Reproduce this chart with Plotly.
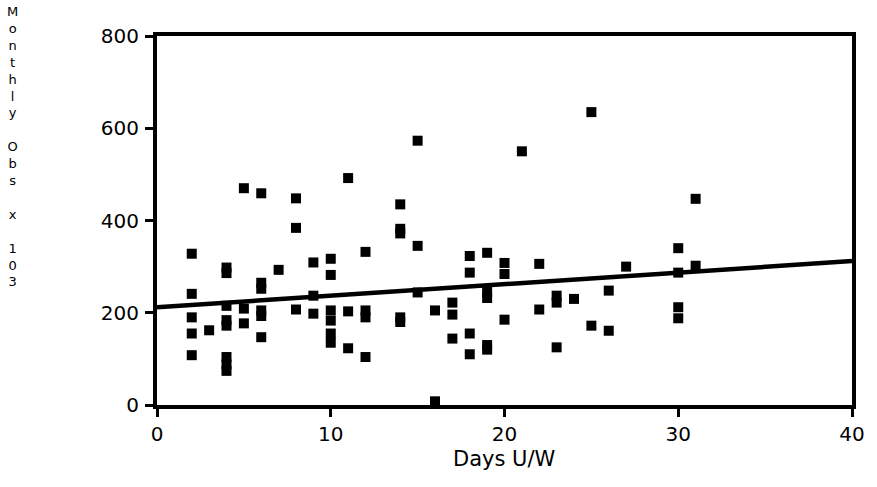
import plotly.graph_objects as go

# ---- data ----
days_uw = ([2]*5 + [3] + [4]*8 + [5]*3 + [6]*6 + [7] + [8]*3 + [9]*3 + [10]*6 +
           [11]*3 + [12]*4 + [14]*5 + [15]*3 + [16]*2 + [17]*3 + [18]*4 + [19]*5 +
           [20]*3 + [21] + [22]*2 + [23]*3 + [24] + [25]*2 + [26]*2 + [27] +
           [30]*4 + [31]*2)
monthly_obs = ([328, 241, 190, 155, 108] + [162] +
               [298, 286, 215, 184, 172, 104, 88, 74] +
               [470, 209, 177] +
               [459, 265, 252, 205, 193, 147] + [293] +
               [448, 384, 207] + [309, 237, 198] +
               [317, 282, 205, 183, 155, 135] +
               [492, 203, 123] + [332, 205, 190, 104] +
               [435, 382, 372, 190, 180] + [573, 345, 244] + [205, 8] +
               [222, 196, 144] + [323, 287, 155, 110] +
               [330, 245, 232, 130, 120] + [308, 284, 185] + [550] +
               [306, 207] + [237, 222, 125] + [230] + [635, 172] +
               [248, 161] + [300] + [340, 287, 212, 188] + [447, 302])
fit_x = [0, 40]
fit_y = [212, 312]
x_ticks = [0, 10, 20, 30, 40]
y_ticks = [0, 200, 400, 600, 800]
x_title = "Days U/W"
y_title_lines = ["M", "o", "n", "t", "h", "l", "y", "", "O", "b", "s", "", "x", "", "1", "0", "3"]

# ---- figure ----
W, H = 877, 487
L, R, T, B = 157, 17, 36, 82
FONT = "DejaVu Sans"

fig = go.Figure()
fig.add_trace(go.Scatter(x=fit_x, y=fit_y, mode="lines",
                         line=dict(color="black", width=4.5), showlegend=False))
fig.add_trace(go.Scatter(x=days_uw, y=monthly_obs, mode="markers",
                         marker=dict(symbol="square", size=10, color="black",
                                     line=dict(width=0)),
                         showlegend=False))

axis_common = dict(showgrid=False, zeroline=False, showline=True, mirror=True,
                   linecolor="black", linewidth=4, ticks="outside", ticklen=8,
                   tickwidth=3, tickcolor="black",
                   tickfont=dict(family=FONT, size=20, color="black"))
fig.update_xaxes(range=[0, 40], tickvals=x_ticks,
                 ticktext=[str(v) for v in x_ticks], **axis_common)
fig.update_yaxes(range=[0, 800], tickvals=y_ticks,
                 ticktext=[str(v) for v in y_ticks], ticklabelstandoff=2,
                 **axis_common)

plot_w = W - L - R
plot_h = H - T - B
annotations = [
    dict(text=x_title, x=0.5, y=-(459 - (H - B)) / plot_h,
         xref="paper", yref="paper", showarrow=False,
         font=dict(family=FONT, size=21, color="black"),
         xanchor="center", yanchor="middle"),
    dict(text="<br>".join(y_title_lines), x=(11 - L) / plot_w,
         y=((H - B) - 2) / plot_h, xref="paper", yref="paper", showarrow=False,
         font=dict(family=FONT, size=13, color="black"),
         xanchor="center", yanchor="top", align="center"),
]

fig.update_layout(width=W, height=H, margin=dict(l=L, r=R, t=T, b=B),
                  paper_bgcolor="white", plot_bgcolor="white",
                  annotations=annotations)

fig.write_html("out.html")
